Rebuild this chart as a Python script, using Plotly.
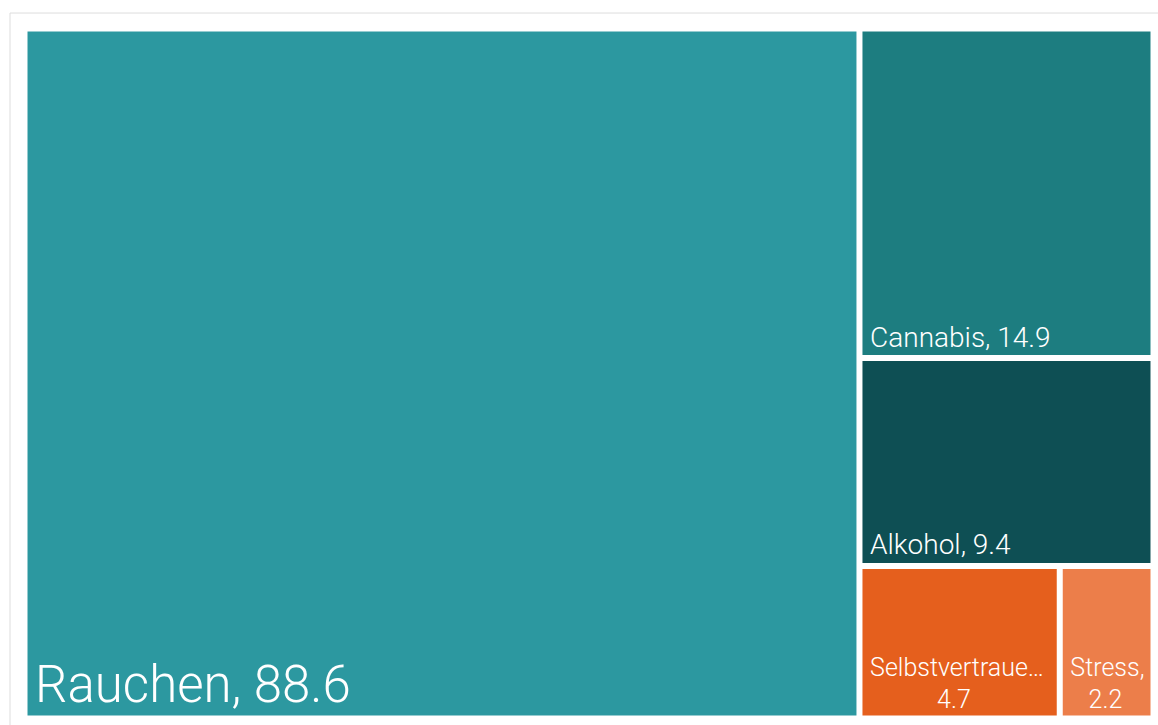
import plotly.graph_objects as go

NB = "\u00a0"

labels = ["Rauchen", "Cannabis", "Alkohol", "Selbstvertrauen", "Stress"]
values = [88.6, 14.9, 9.4, 4.7, 2.2]
colors = ["#2C98A0", "#1D7D80", "#0E4F54", "#E55F1D", "#EC7E4A"]
display_text = [
    NB + "<span style='font-size:51px'>Rauchen, 88.6</span>",
    NB + "<span style='font-size:28px'>Cannabis, 14.9</span>",
    NB + "<span style='font-size:28px'>Alkohol, 9.4</span>",
    NB + "Selbstvertraue…<br>" + NB * 12 + "4.7",
    NB + "Stress,<br>" + NB * 4 + "2.2",
]

fig = go.Figure(go.Treemap(
    labels=labels,
    parents=[""] * len(labels),
    values=values,
    text=display_text,
    textinfo="text",
    textposition="bottom left",
    textfont=dict(family="Roboto, sans-serif", weight=300,
                  color="white", size=25),
    marker=dict(colors=colors, line=dict(color="white", width=3),
                pad=dict(t=0, l=0, r=0, b=0)),
    pathbar=dict(visible=False),
    hoverinfo="label+value",
))

fig.update_layout(
    width=1158, height=725,
    margin=dict(l=26, r=6, t=30, b=8),
    paper_bgcolor="white",
    shapes=[dict(type="rect", xref="paper", yref="paper",
                 x0=-0.0142, x1=1.2, y0=-0.2, y1=1.0247,
                 line=dict(color="#DDDDDD", width=1), layer="below")],
)

fig.write_html("out.html")
